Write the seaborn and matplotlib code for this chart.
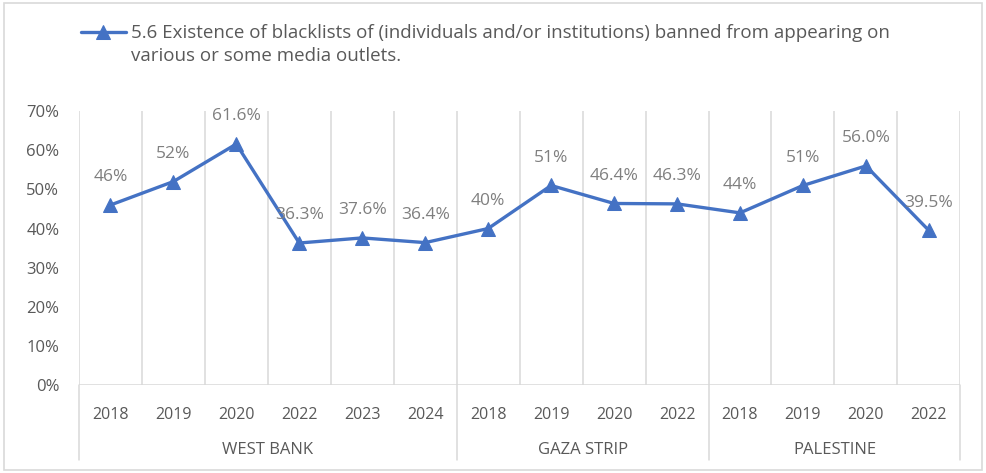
import matplotlib
matplotlib.use("Agg")
import matplotlib.pyplot as plt
import matplotlib.transforms as mtransforms
from matplotlib.patches import Rectangle
from matplotlib.ticker import PercentFormatter, FixedLocator
import pandas as pd
import seaborn as sns

# Data
groups = ["WEST BANK"] * 6 + ["GAZA STRIP"] * 4 + ["PALESTINE"] * 4
years = ["2018", "2019", "2020", "2022", "2023", "2024",
         "2018", "2019", "2020", "2022",
         "2018", "2019", "2020", "2022"]
values = [46, 52, 61.6, 36.3, 37.6, 36.4, 40, 51, 46.4, 46.3, 44, 51, 56.0, 39.5]
value_labels = ["46%", "52%", "61.6%", "36.3%", "37.6%", "36.4%", "40%", "51%",
                "46.4%", "46.3%", "44%", "51%", "56.0%", "39.5%"]
series_line1 = "5.6 Existence of blacklists of (individuals and/or institutions) banned from appearing on"
series_line2 = "various or some media outlets."

df = pd.DataFrame({"pos": range(len(values)), "value": values, "year": years, "group": groups})

sns.set_style("white")
plt.rcParams["font.family"] = ["Open Sans", "DejaVu Sans"]

blue = "#4472C4"
grid_c = "#d9d9d9"
tick_c = "#595959"
label_c = "#7f7f7f"
W, H = 986, 473

fig = plt.figure(figsize=(W / 100, H / 100), dpi=100)
ax = fig.add_axes([0.080, 0.186, 0.894, 0.579])

sns.lineplot(data=df, x="pos", y="value", ax=ax, color=blue, linewidth=2.4,
             marker="^", markersize=10, markeredgecolor=blue, label=series_line1, zorder=3)

# data labels
for x, y, t in zip(df["pos"], df["value"], value_labels):
    ax.annotate(t, (x, y), xytext=(0, 20), textcoords="offset points", ha="center", va="center",
                fontsize=12.5, color=label_c, zorder=4)

n = len(values)
ax.set_xlim(-0.5, n - 0.5)
ax.set_ylim(0, 70)
ax.yaxis.set_major_locator(FixedLocator(range(0, 71, 10)))
ax.yaxis.set_major_formatter(PercentFormatter(decimals=0))
ax.set_xticks(range(n))
ax.set_xticklabels(years)
ax.tick_params(axis="x", length=0, pad=16, labelsize=11.5, labelcolor=tick_c)
ax.tick_params(axis="y", length=0, pad=14, labelsize=12, labelcolor=tick_c)
ax.set_xlabel("")
ax.set_ylabel("")
for s in ax.spines.values():
    s.set_visible(False)

# vertical gridlines between categories
ax.xaxis.set_minor_locator(FixedLocator([i + 0.5 for i in range(-1, n)]))
ax.grid(False)
ax.grid(True, which="minor", axis="x", color=grid_c, linewidth=1.1)
ax.tick_params(which="minor", length=0)
ax.axhline(0, color=grid_c, linewidth=1.1, zorder=1)

# group separators and labels below the axis
trans = mtransforms.blended_transform_factory(ax.transData, ax.transAxes)
bounds = [-0.5]
names = []
for i, g in enumerate(groups):
    if i == n - 1 or groups[i + 1] != g:
        bounds.append(i + 0.5)
        names.append(g)
for b in bounds:
    ax.plot([b, b], [0, -0.275], color=grid_c, linewidth=1.1, transform=trans, clip_on=False)
for name, a, b in zip(names, bounds[:-1], bounds[1:]):
    ax.text((a + b) / 2, -0.238, name, transform=trans, ha="center", va="center",
            fontsize=12, color=tick_c)

# legend (first line with handle, second line aligned under the text)
leg = ax.legend(loc="center left", bbox_to_anchor=(0.082, 0.930), bbox_transform=fig.transFigure,
                frameon=False, fontsize=13.5, handlelength=2.4, handletextpad=0.3, labelcolor=tick_c,
                borderaxespad=0, borderpad=0)
fig.canvas.draw()
bb = leg.get_texts()[0].get_window_extent()
fig.text(bb.x0 / W, 0.882, series_line2, ha="left", va="center", fontsize=13.5, color=tick_c)

# outer border
fig.patches.append(Rectangle((0.004, 0.006), 0.992, 0.988, transform=fig.transFigure,
                             fill=False, edgecolor="#d9d9d9", linewidth=1.2))

fig.savefig("out.png", dpi=100)
